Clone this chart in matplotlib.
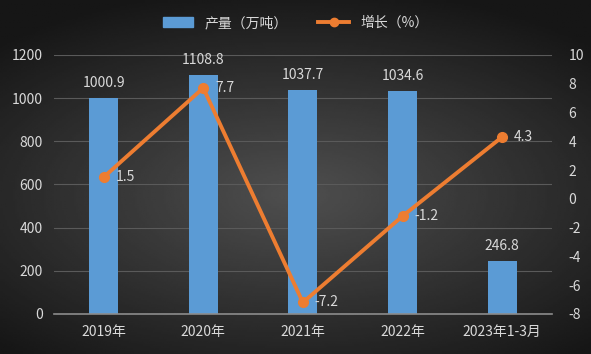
import numpy as np
import matplotlib.pyplot as plt
from matplotlib.patches import Patch
from matplotlib.lines import Line2D

plt.rcParams['font.family'] = ['Noto Sans CJK SC', 'DejaVu Sans']
plt.rcParams['axes.unicode_minus'] = False

categories = ['2019年', '2020年', '2021年', '2022年', '2023年1-3月']
output = [1000.9, 1108.8, 1037.7, 1034.6, 246.8]
growth = [1.5, 7.7, -7.2, -1.2, 4.3]

txt = '#d9d9d9'
bar_c = '#5b9bd5'
line_c = '#ed7d31'

fig = plt.figure(figsize=(5.91, 3.54), dpi=100)

# dark radial background
bg = fig.add_axes([0, 0, 1, 1])
yy, xx = np.mgrid[-1:1:200j, -1:1:300j]
r = np.sqrt((xx * 0.9) ** 2 + ((yy - 0.1) * 1.1) ** 2)
bg.imshow(0.31 - 0.17 * np.clip(r, 0, 1.3), cmap='gray', vmin=0, vmax=1,
          aspect='auto', extent=[0, 1, 0, 1])
bg.axis('off')

ax = fig.add_axes([0.091, 0.113, 0.843, 0.732])
ax.patch.set_alpha(0)
x = np.arange(len(categories))
ax.bar(x, output, width=0.29, color=bar_c, zorder=2)
ax.set_xlim(-0.5, len(categories) - 0.5)
ax.set_ylim(0, 1200)
ax.set_yticks(range(0, 1201, 200))
ax.grid(axis='y', color='#5a5a5a', lw=0.8, zorder=0)
ax.set_xticks(x)
ax.set_xticklabels(categories)
for s in ['top', 'right', 'left']:
    ax.spines[s].set_visible(False)
ax.spines['bottom'].set_color('#8c8c8c')
ax.spines['bottom'].set_linewidth(1.2)
ax.tick_params(colors=txt, labelsize=10, length=0, pad=8)
for xi, v in zip(x, output):
    ax.text(xi, v + 35, f'{v:.1f}', ha='center', va='bottom', color=txt, fontsize=10)

ax2 = ax.twinx()
ax2.plot(x, growth, color=line_c, lw=2.8, marker='o', ms=7, zorder=3)
ax2.set_ylim(-8, 10)
ax2.set_yticks(range(-8, 11, 2))
for s in ['top', 'right', 'left', 'bottom']:
    ax2.spines[s].set_visible(False)
ax2.tick_params(colors=txt, labelsize=10, length=0, pad=12)
for xi, v in zip(x, growth):
    ax2.text(xi + 0.12, v, f'{v:.1f}', ha='left', va='center', color=txt, fontsize=10)

handles = [Patch(color=bar_c), Line2D([0], [0], color=line_c, lw=2.8, marker='o', ms=6)]
fig.legend(handles, ['产量（万吨）', '增长（%）'], loc='center', bbox_to_anchor=(0.5, 0.935),
           ncol=2, frameon=False, fontsize=10, labelcolor=txt, handlelength=2.2,
           columnspacing=2.2)

fig.savefig('out.png', dpi=100)
